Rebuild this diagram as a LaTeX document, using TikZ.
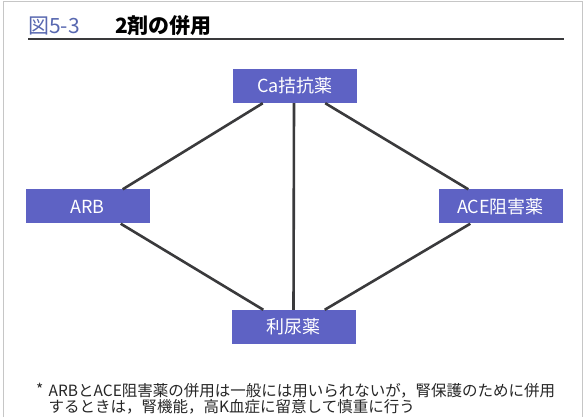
\documentclass[tikz,border=0pt]{standalone}
\usepackage{fontspec}
\setmainfont{Noto Sans CJK JP}
\usepackage{xcolor}
\definecolor{boxblue}{RGB}{94,98,196}
\definecolor{figblue}{RGB}{88,104,176}
\definecolor{linegray}{RGB}{58,58,60}
\tikzset{
  drug/.style={fill=boxblue, text=white, minimum width=124pt, minimum height=34pt,
    inner sep=0pt, font=\fontsize{18}{21}\selectfont},
  link/.style={draw=linegray, line width=2.6pt},
  note/.style={anchor=base west, inner sep=0pt, text=black!85,
    font=\fontsize{15.5}{16.5}\selectfont}
}

\begin{document}
\begin{tikzpicture}[x=1pt, y=1pt]
  \useasboundingbox (0,0) rectangle (585,417);
  % Frame of the page
  \draw[gray!45, line width=1pt] (3,0) -- (3,415) -- (582,415) -- (582,0);

  % Title with rule
  \node[anchor=base west, inner sep=0pt, text=figblue, font=\fontsize{21}{24}\selectfont] (fig) at (28,383) {図5-3};
  \node[anchor=base west, inner sep=0pt, font=\fontsize{21}{24}\selectfont\bfseries] (title) at (115,383) {2剤の併用};
  \draw[linegray, line width=1.8pt] (28,378) -- (564,378);

  % The four drugs
  \node[drug] (ca) at (295,331) {Ca拮抗薬};
  \node[drug] (arb) at (87.5,210.5) {ARB};
  \node[drug] (ace) at (500.5,210.5) {ACE阻害薬};
  \node[drug] (diu) at (293.5,90) {利尿薬};

  % Combinations
  \draw[link] ([xshift=30pt]ca.south west) -- ([xshift=-27pt]arb.north east);
  \draw[link] ([xshift=-32pt]ca.south east) -- ([xshift=30pt]ace.north west);
  \draw[link] ([xshift=-1pt]ca.south) -- (diu.north);
  \draw[link] ([xshift=-29pt]arb.south east) -- ([xshift=32pt]diu.north west);
  \draw[link] ([xshift=32pt]ace.south west) -- ([xshift=-31pt]diu.north east);

  % Footnote
  \node[note] (star) at (36,22) {*};
  \node[note] (line1) at (48.5,21) {ARBとACE阻害薬の併用は一般には用いられないが，腎保護のために併用};
  \node[note] (line2) at (48.5,4.5) {するときは，腎機能，高K血症に留意して慎重に行う};
\end{tikzpicture}
\end{document}
